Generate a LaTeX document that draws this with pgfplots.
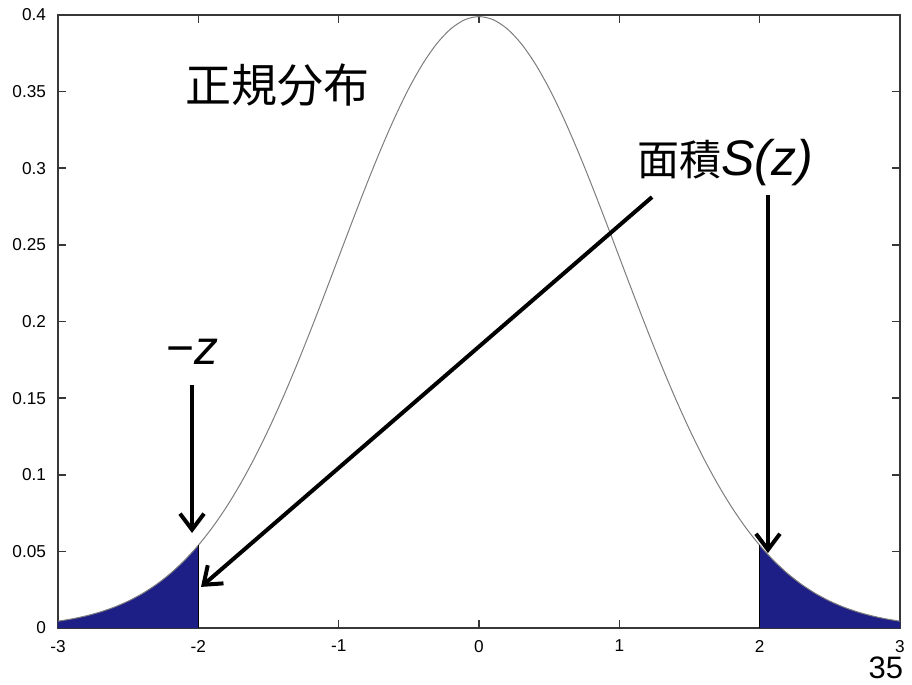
\documentclass[border=0pt]{standalone}
\usepackage{fontspec}
\setmainfont{Liberation Sans}
\newfontfamily\cjk{Noto Sans CJK JP}
\usepackage{pgfplots}
\usepackage{pgfplotstable}
\pgfplotsset{compat=1.18}
\usetikzlibrary{arrows.meta}

\definecolor{areablue}{RGB}{30,30,135}
\definecolor{curvegray}{RGB}{125,125,125}
\definecolor{axisgray}{RGB}{55,55,55}

% standard normal density, read at steps of 0.1
\pgfplotstableread{
x y
-3.0 0.004432
-2.9 0.005953
-2.8 0.007915
-2.7 0.010421
-2.6 0.013583
-2.5 0.017528
-2.4 0.022395
-2.3 0.028327
-2.2 0.035475
-2.1 0.043984
-2.0 0.053991
-1.9 0.065616
-1.8 0.078950
-1.7 0.094049
-1.6 0.110921
-1.5 0.129518
-1.4 0.149727
-1.3 0.171369
-1.2 0.194186
-1.1 0.217852
-1.0 0.241971
-0.9 0.266085
-0.8 0.289692
-0.7 0.312254
-0.6 0.333225
-0.5 0.352065
-0.4 0.368270
-0.3 0.381388
-0.2 0.391043
-0.1 0.396953
0.0 0.398942
0.1 0.396953
0.2 0.391043
0.3 0.381388
0.4 0.368270
0.5 0.352065
0.6 0.333225
0.7 0.312254
0.8 0.289692
0.9 0.266085
1.0 0.241971
1.1 0.217852
1.2 0.194186
1.3 0.171369
1.4 0.149727
1.5 0.129518
1.6 0.110921
1.7 0.094049
1.8 0.078950
1.9 0.065616
2.0 0.053991
2.1 0.043984
2.2 0.035475
2.3 0.028327
2.4 0.022395
2.5 0.017528
2.6 0.013583
2.7 0.010421
2.8 0.007915
2.9 0.005953
3.0 0.004432
}\pdftable

\begin{document}
\begin{tikzpicture}
\begin{axis}[
    scale only axis,
    width=421pt, height=306.5pt,
    xmin=-3, xmax=3,
    ymin=0, ymax=0.4,
    xtick={-3,-2,-1,0,1,2,3},
    ytick={0,0.05,0.1,0.15,0.2,0.25,0.3,0.35,0.4},
    scaled y ticks=false,
    yticklabel style={/pgf/number format/fixed, /pgf/number format/precision=2, xshift=-2.5pt},
    xticklabel style={yshift=-2.5pt},
    /pgf/number format/assume math mode=true,
    tick label style={font=\fontsize{8.6}{10}\selectfont},
    tick align=inside,
    tick pos=both,
    major tick length=4pt,
    axis line style={axisgray, line width=0.8pt},
    every tick/.style={axisgray, line width=0.8pt},
    clip=false,
]
% shaded tails
\addplot[fill=areablue, draw=none] coordinates {
(-3.0,0) (-3.0,0.004432) (-2.9,0.005953) (-2.8,0.007915) (-2.7,0.010421)
(-2.6,0.013583) (-2.5,0.017528) (-2.4,0.022395) (-2.3,0.028327)
(-2.2,0.035475) (-2.1,0.043984) (-2.0,0.053991) (-2.0,0)} -- cycle;
\addplot[fill=areablue, draw=none] coordinates {
(2.0,0) (2.0,0.053991) (2.1,0.043984) (2.2,0.035475) (2.3,0.028327)
(2.4,0.022395) (2.5,0.017528) (2.6,0.013583) (2.7,0.010421)
(2.8,0.007915) (2.9,0.005953) (3.0,0.004432) (3.0,0)} -- cycle;

% density curve
\addplot[curvegray, line width=0.5pt, smooth] table[x=x, y=y] {\pdftable};

% edges of the shaded areas
\addplot[black, line width=0.6pt] coordinates {(-2,0) (-2,0.053991)};
\addplot[black, line width=0.6pt] coordinates {(2,0) (2,0.053991)};

% annotations
\node[font=\cjk\fontsize{23}{27}\selectfont] at (axis cs:-1.436,0.3543) {正規分布};
\node[inner sep=0pt] at (axis cs:1.753,0.304)
  {{\cjk\fontsize{21}{26}\selectfont 面積}{\fontsize{25}{30}\selectfont\itshape S(z)}};
\node[font=\fontsize{24}{28}\selectfont] at (axis cs:-2.045,0.180) {−\textit{z}};
\node[font=\fontsize{15.5}{18}\selectfont, inner sep=0pt] at (axis cs:2.9,-0.026) {35};

\draw[line width=2pt, -{Straight Barb[length=8pt,width=12pt]}]
  (axis cs:-2.045,0.1586) -- (axis cs:-2.045,0.0620);
\draw[line width=2pt, -{Straight Barb[length=8pt,width=12pt]}]
  (axis cs:1.233,0.2812) -- (axis cs:-1.981,0.0268);
\draw[line width=2pt, -{Straight Barb[length=8pt,width=12pt]}]
  (axis cs:2.059,0.2825) -- (axis cs:2.059,0.0489);
\end{axis}
\path ([shift={(-29pt,-28pt)}]current axis.south west)
  rectangle ([shift={(6pt,7.5pt)}]current axis.north east);
\end{tikzpicture}
\end{document}
